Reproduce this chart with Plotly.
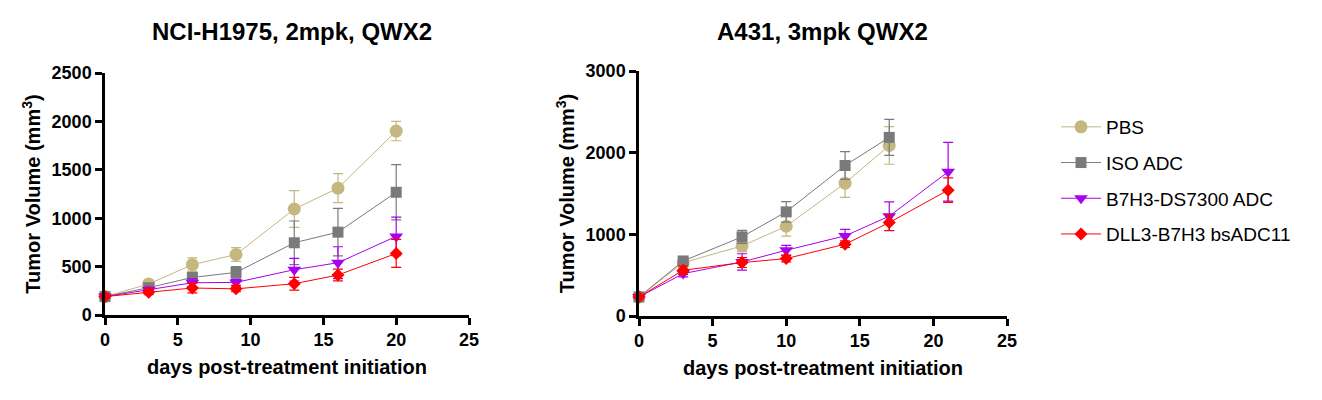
import plotly.graph_objects as go

# ---- data ----
GROUPS = ["PBS", "ISO ADC", "B7H3-DS7300 ADC", "DLL3-B7H3 bsADC11"]

h1975_days = [0, 3, 6, 9, 13, 16, 20]
h1975_pbs = [190, 320, 520, 625, 1095, 1310, 1900]
h1975_pbs_err = [15, 40, 70, 70, 190, 150, 100]
h1975_iso = [190, 282, 388, 440, 746, 856, 1268]
h1975_iso_err = [15, 40, 50, 60, 225, 245, 285]
h1975_b7h3 = [190, 258, 333, 337, 468, 540, 812]
h1975_b7h3_err = [15, 30, 40, 30, 117, 165, 200]
h1975_dll3 = [190, 234, 279, 270, 323, 413, 636]
h1975_dll3_err = [15, 25, 50, 30, 65, 60, 145]

a431_days = [0, 3, 7, 10, 14, 17, 21]
a431_pbs = [233, 654, 858, 1099, 1627, 2088, None]
a431_pbs_err = [20, 60, 70, 120, 175, 230, None]
a431_iso = [233, 674, 969, 1275, 1843, 2187, None]
a431_iso_err = [20, 40, 80, 125, 170, 220, None]
a431_b7h3 = [233, 519, 662, 805, 981, 1222, 1766]
a431_b7h3_err = [20, 40, 100, 60, 80, 175, 360]
a431_dll3 = [233, 560, 654, 703, 879, 1144, 1541]
a431_dll3_err = [20, 50, 60, 40, 40, 100, 150]

COLORS = ["#c4b77f", "#7a7a7a", "#a800f0", "#ff0000"]
SYMBOLS = ["circle", "square", "triangle-down", "diamond"]
SIZES = [13, 11, 12, 10]

FONT = "Arial, Liberation Sans, sans-serif"

# page body adds an 8px offset, so the figure is a bit smaller than the window
W, H, OFF = 1314, 392, 8


def px(x):
    return (x - OFF) / W


def py(y):
    return 1 - (y - OFF) / H


fig = go.Figure()

panels = [
    ("x", "y", h1975_days,
     [h1975_pbs, h1975_iso, h1975_b7h3, h1975_dll3],
     [h1975_pbs_err, h1975_iso_err, h1975_b7h3_err, h1975_dll3_err]),
    ("x2", "y2", a431_days,
     [a431_pbs, a431_iso, a431_b7h3, a431_dll3],
     [a431_pbs_err, a431_iso_err, a431_b7h3_err, a431_dll3_err]),
]

for p, (xa, ya, days, series, errs) in enumerate(panels):
    for i, name in enumerate(GROUPS):
        fig.add_trace(go.Scatter(
            x=days, y=series[i], xaxis=xa, yaxis=ya,
            mode="lines+markers", name=name,
            legendgroup=f"g{i}",
            showlegend=(p == 0),
            line=dict(color=COLORS[i], width=1),
            marker=dict(color=COLORS[i], symbol=SYMBOLS[i], size=SIZES[i]),
            error_y=dict(type="data", array=errs[i], visible=True,
                         color=COLORS[i], thickness=1.2, width=5),
            cliponaxis=False,
        ))

axis_common = dict(
    showgrid=False, zeroline=False, showline=True, linecolor="black",
    linewidth=2.5, ticks="outside", tickcolor="black", tickwidth=2.5, ticklen=7,
    automargin=False,
    tickfont=dict(family=FONT, size=18, color="black", weight="bold"),
)
title_font = dict(family=FONT, size=20, color="black", weight="bold")

fig.update_layout(
    width=W, height=H,
    margin=dict(l=0, r=0, t=0, b=0),
    paper_bgcolor="white", plot_bgcolor="white",
    xaxis=dict(axis_common, domain=[px(105), px(469)], range=[0, 25],
               dtick=5, anchor="y",
               title=dict(text="days post-treatment initiation", font=title_font, standoff=11)),
    yaxis=dict(axis_common, domain=[py(315), py(73)], range=[0, 2500],
               dtick=500, anchor="x",
               title=dict(text="Tumor Volume (mm<sup>3</sup>)", font=title_font, standoff=6)),
    xaxis2=dict(axis_common, domain=[px(639), px(1007)], range=[0, 25],
                dtick=5, anchor="y2",
                title=dict(text="days post-treatment initiation", font=title_font, standoff=11)),
    yaxis2=dict(axis_common, domain=[py(316), py(71)], range=[0, 3000],
                dtick=1000, anchor="x2",
                title=dict(text="Tumor Volume (mm<sup>3</sup>)", font=title_font, standoff=6)),
    legend=dict(x=px(1056), y=py(108), xanchor="left", yanchor="top",
                font=dict(family=FONT, size=19, color="black"),
                tracegroupgap=8, itemwidth=40, bgcolor="rgba(0,0,0,0)"),
    annotations=[
        dict(text="NCI-H1975, 2mpk, QWX2", x=px(292), y=py(32),
             xref="paper", yref="paper", xanchor="center", yanchor="middle",
             showarrow=False,
             font=dict(family=FONT, size=24, color="black", weight="bold")),
        dict(text="A431, 3mpk QWX2", x=px(822), y=py(32),
             xref="paper", yref="paper", xanchor="center", yanchor="middle",
             showarrow=False,
             font=dict(family=FONT, size=24, color="black", weight="bold")),
    ],
)

fig.write_html("out.html")
